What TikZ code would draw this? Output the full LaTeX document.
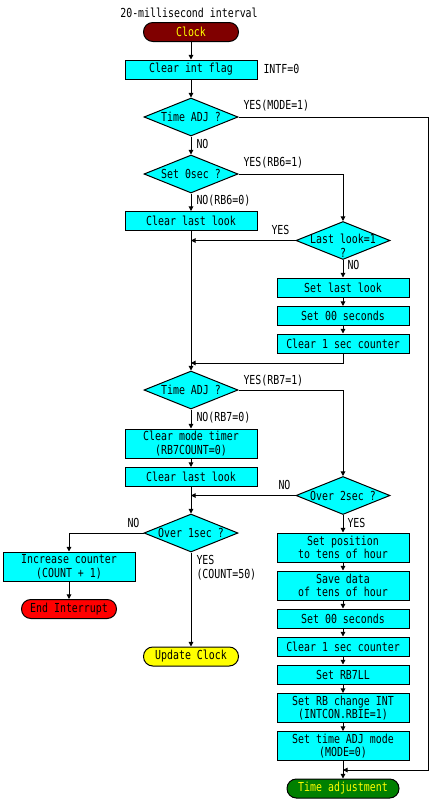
\documentclass[tikz,border=0pt]{standalone}
\usepackage{fontspec}
\usetikzlibrary{shapes.geometric,arrows.meta}
\newfontfamily\gfont[FakeStretch=0.80]{DejaVu Sans Mono}
\definecolor{boxcyan}{RGB}{0,255,255}
\definecolor{clockred}{RGB}{128,0,0}
\definecolor{endred}{RGB}{255,0,0}
\definecolor{updyellow}{RGB}{255,255,0}
\definecolor{adjgreen}{RGB}{0,128,0}
\begin{document}
\begin{tikzpicture}[x=0.75pt,y=-0.75pt,
  line width=0.75pt,
  every node/.style={font=\gfont\fontsize{9.3pt}{10.3pt}\selectfont, inner sep=0pt},
  proc/.style={draw, fill=boxcyan, minimum width=99pt, minimum height=14.25pt, align=center},
  proctwo/.style={proc, minimum height=21.75pt},
  dec/.style={diamond, draw, fill=boxcyan, minimum width=70.5pt, minimum height=28.5pt, aspect=2.4},
  term/.style={draw, rounded corners=7pt, minimum width=71.25pt, minimum height=14.25pt},
  lbl/.style={anchor=west},
  flow/.style={-{Triangle[length=3.5pt,width=3.5pt]}}]
\useasboundingbox[fill=white] (0,0) rectangle (430,800);

% left column
\node (title) at (189,13) {20-millisecond interval};
\node[term, fill=clockred, text=updyellow] (clock) at (191,32) {Clock};
\node[proc] (cif) at (191,69.5) {Clear int flag};
\node[lbl] (intf) at (263,69) {INTF=0};
\node[dec] (tadj1) at (191,117) {Time ADJ ?};
\node[dec] (set0) at (191,174) {Set 0sec ?};
\node[proc] (cll1) at (191,221) {Clear last look};
\node[dec] (tadj2) at (191,390) {Time ADJ ?};
\node[proctwo] (cmt) at (191,443.5) {Clear mode timer\\(RB7COUNT=0)};
\node[proc] (cll2) at (191,477) {Clear last look};
\node[dec] (over1) at (191,533) {Over 1sec ?};
\node[proctwo] (inc) at (69,566.5) {Increase counter\\(COUNT + 1)};
\node[term, fill=endred] (endint) at (69,609) {End Interrupt};
\node[term, fill=updyellow] (upd) at (191,656.5) {Update Clock};

% right column
\node[dec] (lastlook) at (343,240.5) {};
\node (lltext) at (343,246) [align=center] {Last look=1\\?};
\node[proc] (sll) at (343,287.5) {Set last look};
\node[proc] (s00a) at (343,316) {Set 00 seconds};
\node[proc] (c1sa) at (343,343.5) {Clear 1 sec counter};
\node[dec] (over2) at (343,495.5) {Over 2sec ?};
\node[proctwo] (spos) at (343,547.5) {Set position\\to tens of hour};
\node[proctwo] (sdat) at (343,585.5) {Save data\\of tens of hour};
\node[proc] (s00b) at (343,618.5) {Set 00 seconds};
\node[proc] (c1sb) at (343,646.5) {Clear 1 sec counter};
\node[proc] (srb7) at (343,674.5) {Set RB7LL};
\node[proctwo] (srbi) at (343,708) {Set RB change INT\\(INTCON.RBIE=1)};
\node[proctwo] (stam) at (343,746) {Set time ADJ mode\\(MODE=0)};
\node[term, fill=adjgreen, text=updyellow, minimum width=84pt] (tadjend) at (343,788.5) {Time adjustment};

% labels
\node[lbl] (l1) at (243,106) {YES(MODE=1)};
\node[lbl] (l2) at (196,144) {NO};
\node[lbl] (l3) at (243,163) {YES(RB6=1)};
\node[lbl] (l4) at (196,201) {NO(RB6=0)};
\node[lbl] (l5) at (271,230) {YES};
\node[lbl] (l6) at (347,265) {NO};
\node[lbl] (l7) at (243,381) {YES(RB7=1)};
\node[lbl] (l8) at (196,418) {NO(RB7=0)};
\node[lbl] (l9) at (278,485) {NO};
\node[lbl] (l10) at (347,523) {YES};
\node[lbl] (l11) at (127,523) {NO};
\node[lbl, align=left] (l12) at (196,567.5) {YES\\(COUNT=50)};

% connectors
\coordinate (rx) at (428,117);
\coordinate (jend) at (343,770);
\coordinate (j1) at (191,240.5);
\coordinate (j2) at (191,363);
\coordinate (j3) at (191,495.5);

\draw[flow] (clock) -- (cif);
\draw[flow] (cif) -- (tadj1);
\draw[flow] (tadj1) -- (set0);
\draw[flow] (tadj1.east) -- (rx) |- (jend);
\draw[flow] (set0.east) -| (lastlook.north);
\draw[flow] (set0) -- (cll1);
\draw[flow] (lastlook.west) -- (j1);
\draw[flow] (lastlook) -- (sll);
\draw[flow] (sll) -- (s00a);
\draw[flow] (s00a) -- (c1sa);
\draw[flow] (c1sa.south) |- (j2);
\draw[flow] (cll1) -- (tadj2);
\draw[flow] (tadj2.east) -| (over2.north);
\draw[flow] (tadj2) -- (cmt);
\draw[flow] (cmt) -- (cll2);
\draw[flow] (cll2) -- (over1);
\draw[flow] (over2.west) -- (j3);
\draw[flow] (over2) -- (spos);
\draw[flow] (spos) -- (sdat);
\draw[flow] (sdat) -- (s00b);
\draw[flow] (s00b) -- (c1sb);
\draw[flow] (c1sb) -- (srb7);
\draw[flow] (srb7) -- (srbi);
\draw[flow] (srbi) -- (stam);
\draw[flow] (stam) -- (tadjend);
\draw[flow] (over1.west) -| (inc.north);
\draw[flow] (inc) -- (endint);
\draw[flow] (over1) -- (upd);
\end{tikzpicture}
\end{document}
